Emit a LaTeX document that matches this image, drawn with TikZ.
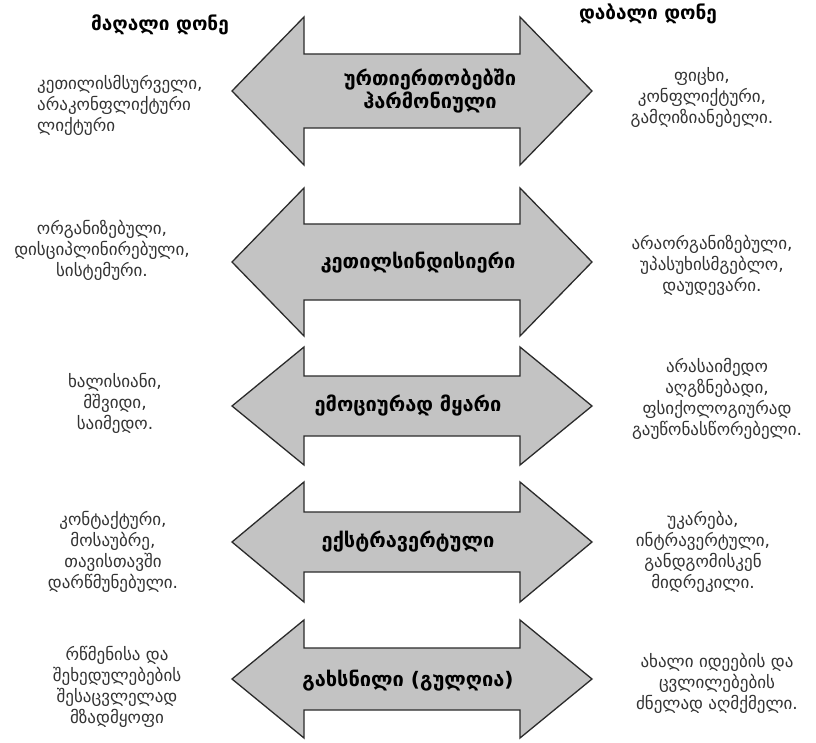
\documentclass[tikz,border=0pt]{standalone}
\usepackage{fontspec}
\newfontfamily\geo{DejaVu Sans}
\newfontfamily\geobold{DejaVu Sans Bold}
\definecolor{arrowfill}{HTML}{C3C3C3}
\definecolor{arrowline}{HTML}{2B2B2B}
\definecolor{bodytext}{HTML}{333333}
% double-headed arrow: #1 centre y, #2 half head height, #3 half shaft height
\newcommand\twowayarrow[3]{%
  \draw[twoway] (232,#1) -- (304,#1-#2) -- (304,#1-#3) -- (520,#1-#3)
    -- (520,#1-#2) -- (592,#1) -- (520,#1+#2) -- (520,#1+#3)
    -- (304,#1+#3) -- (304,#1+#2) -- cycle;}
\begin{document}
\begin{tikzpicture}[x=1pt,y=-1pt,
  twoway/.style={fill=arrowfill,draw=arrowline,line width=1.3pt,line join=miter},
  heading/.style={font=\geobold\fontsize{19}{21}\selectfont,text=black},
  label/.style={font=\geobold\fontsize{20}{21}\selectfont,text=black,align=center},
  trait/.style={font=\geo\fontsize{17}{21}\selectfont,text=bodytext,align=center,inner sep=0pt}]
\useasboundingbox (0,0) rectangle (816,743);
\fill[white] (0,0) rectangle (816,743);

\node[heading] (high) at (160,25) {მაღალი დონე};
\node[heading] (low) at (648,14) {დაბალი დონე};

\twowayarrow{91}{74}{37}
\twowayarrow{262}{74}{38}
\twowayarrow{406}{59}{30}
\twowayarrow{542}{60}{30}
\twowayarrow{679}{59}{31}

\node[label] (a1) at (430,91) {ურთიერთობებში\\ჰარმონიული};
\node[label] (a2) at (418,263) {კეთილსინდისიერი};
\node[label] (a3) at (408,406) {ემოციურად მყარი};
\node[label] (a4) at (408,542) {ექსტრავერტული};
\node[label] (a5) at (408,681) {გახსნილი (გულღია)};

\node[trait,anchor=west,align=left] (l1) at (37,105) {კეთილისმსურველი,\\არაკონფლიქტური\\ლიქტური};
\node[trait] (r1) at (702,97) {ფიცხი,\\კონფლიქტური,\\გამღიზიანებელი.};
\node[trait] (l2) at (102,250) {ორგანიზებული,\\დისციპლინირებული,\\სისტემური.};
\node[trait] (r2) at (712,265) {არაორგანიზებული,\\უპასუხისმგებლო,\\დაუდევარი.};
\node[trait] (l3) at (115,403) {ხალისიანი,\\მშვიდი,\\საიმედო.};
\node[trait] (r3) at (717,399) {არასაიმედო\\აღგზნებადი,\\ფსიქოლოგიურად\\გაუწონასწორებელი.};
\node[trait] (l4) at (113,552) {კონტაქტური,\\მოსაუბრე,\\თავისთავში\\დარწმუნებული.};
\node[trait] (r4) at (703,552) {უკარება,\\ინტრავერტული,\\განდგომისკენ\\მიდრეკილი.};
\node[trait] (l5) at (117,687) {რწმენისა და\\შეხედულებების\\შესაცვლელად\\მზადმყოფი};
\node[trait] (r5) at (717,683) {ახალი იდეების და\\ცვლილებების\\ძნელად აღმქმელი.};
\end{tikzpicture}
\end{document}
